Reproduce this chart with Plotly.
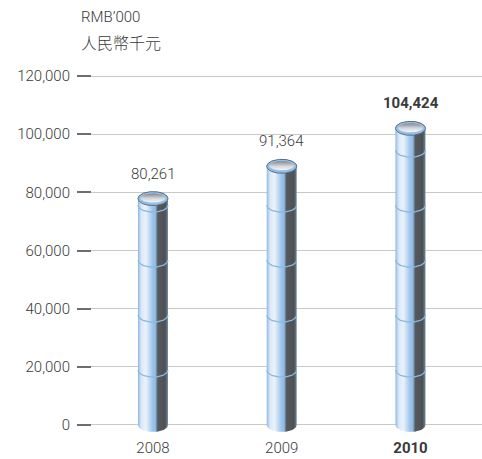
import numpy as np
import plotly.graph_objects as go

# ---------------- data ----------------
years = ["2008", "2009", "2010"]
year_tick_text = ["2008", "2009", "<b>2010</b>"]
values = [80261, 91364, 104424]
value_labels = ["80,261", "91,364", "<b>104,424</b>"]
y_tick_vals = [0, 20000, 40000, 60000, 80000, 100000, 120000]
y_tick_text = ["0", "20,000", "40,000", "60,000", "80,000", "100,000", "120,000"]
unit_line1 = "RMB’000"
unit_line2 = "人民幣千元"

# ---------------- layout geometry / style ----------------
W, H = 482, 459
M_L, M_R, M_T, M_B = 77, 0, 60, 22
PLOT_W = W - M_L - M_R
PLOT_H = H - M_T - M_B
X_RANGE = [-0.5903, 2.5553]
Y_RANGE = [-4130, 125510]
px_per_y = PLOT_H / (Y_RANGE[1] - Y_RANGE[0])
px_per_x = PLOT_W / (X_RANGE[1] - X_RANGE[0])

HALF_W = 15 / px_per_x          # cylinder half width in x units
ELL_H = 7 / px_per_y            # ellipse half height in y units
SEG = 18900                     # decorative ring spacing

body_scale = [
    [0.00, "#7fb0de"], [0.04, "#aecdee"], [0.12, "#dce9f7"], [0.26, "#eaf2fb"],
    [0.38, "#c3dbf2"], [0.48, "#9fc5ec"], [0.58, "#8fbbe6"], [0.62, "#6d889f"],
    [0.66, "#55595d"], [0.90, "#4e5154"], [0.96, "#5f6e7b"], [1.00, "#7896b2"],
]
cap_scale = [[0.0, "#f5f7f9"], [0.45, "#d5d8db"], [1.0, "#80878e"]]

FONT = "Roboto"
TXT = "#3a3a3a"

fig = go.Figure()
t_half = np.linspace(0, np.pi, 60)
t_full = np.linspace(0, 2 * np.pi, 120)

ring_x, ring_y = [], []
for i, v in enumerate(values):
    c = i
    yc = v - ELL_H
    # body: top upper half (left->right), bottom lower half (right->left)
    bx = np.concatenate([c - HALF_W * np.cos(t_half), c + HALF_W * np.cos(t_half)])
    by = np.concatenate([yc + ELL_H * np.sin(t_half), 0 - ELL_H * np.sin(t_half)])
    fig.add_trace(go.Scatter(
        x=list(bx) + [bx[0]], y=list(by) + [by[0]], mode="lines", fill="toself",
        line=dict(width=0, color="rgba(0,0,0,0)"),
        fillgradient=dict(type="horizontal", start=c - HALF_W, stop=c + HALF_W,
                          colorscale=body_scale),
        hoverinfo="skip", showlegend=False))
    # rings
    k = 1
    while k * SEG < yc - ELL_H * 0.5:
        yk = k * SEG
        ring_x += list(c + HALF_W * np.cos(t_half)) + [None]
        ring_y += list(yk - ELL_H * np.sin(t_half)) + [None]
        k += 1
    # cap outer
    fig.add_trace(go.Scatter(
        x=c + HALF_W * np.cos(t_full), y=yc + ELL_H * np.sin(t_full),
        mode="lines", fill="toself", fillcolor="#93bfe6",
        line=dict(width=1, color="#5a6d80"), hoverinfo="skip", showlegend=False))
    # cap inner
    iy = yc + ELL_H * 0.08
    fig.add_trace(go.Scatter(
        x=c + HALF_W * 0.84 * np.cos(t_full), y=iy + ELL_H * 0.66 * np.sin(t_full),
        mode="lines", fill="toself",
        line=dict(width=0, color="rgba(0,0,0,0)"),
        fillgradient=dict(type="vertical", start=iy - ELL_H * 0.66, stop=iy + ELL_H * 0.66,
                          colorscale=cap_scale),
        hoverinfo="skip", showlegend=False))

fig.add_trace(go.Scatter(x=ring_x, y=ring_y, mode="lines",
                         line=dict(width=1.3, color="#8cb9dc"),
                         hoverinfo="skip", showlegend=False))

# value labels
for i, (v, lab) in enumerate(zip(values, value_labels)):
    fig.add_annotation(x=i, y=v, text=lab, showarrow=False, yanchor="middle",
                       yshift=18, font=dict(family=FONT, size=15, color=TXT, weight=300))

# unit labels
def px_to_paper(px, py):
    return (px - M_L) / PLOT_W, (H - M_B - py) / PLOT_H

for txt, py, fam, sz in [(unit_line1, 17, FONT, 15), (unit_line2, 42, "Noto Sans CJK TC", 16)]:
    ax, ay = px_to_paper(79, py)
    fig.add_annotation(xref="paper", yref="paper", x=ax, y=ay, text=txt, showarrow=False,
                       xanchor="left", yanchor="middle",
                       font=dict(family=fam, size=sz, color=TXT, weight=300))

fig.update_layout(
    width=W, height=H, margin=dict(l=M_L, r=M_R, t=M_T, b=M_B),
    paper_bgcolor="white", plot_bgcolor="white",
    font=dict(family=FONT, size=15, color=TXT, weight=300),
    showlegend=False,
    xaxis=dict(range=X_RANGE, tickvals=[0, 1, 2], ticktext=year_tick_text,
               showgrid=False, zeroline=False, showline=False, ticks="",
               ticklabelstandoff=0, fixedrange=True),
    yaxis=dict(range=Y_RANGE, tickvals=y_tick_vals, ticktext=y_tick_text,
               showgrid=True, gridcolor="#c9c9c9", gridwidth=1,
               zeroline=False, showline=False, ticks="inside", ticklen=14,
               tickcolor="#6e6e6e", tickwidth=2, ticklabelstandoff=6, fixedrange=True),
)

fig.write_html("out.html")
